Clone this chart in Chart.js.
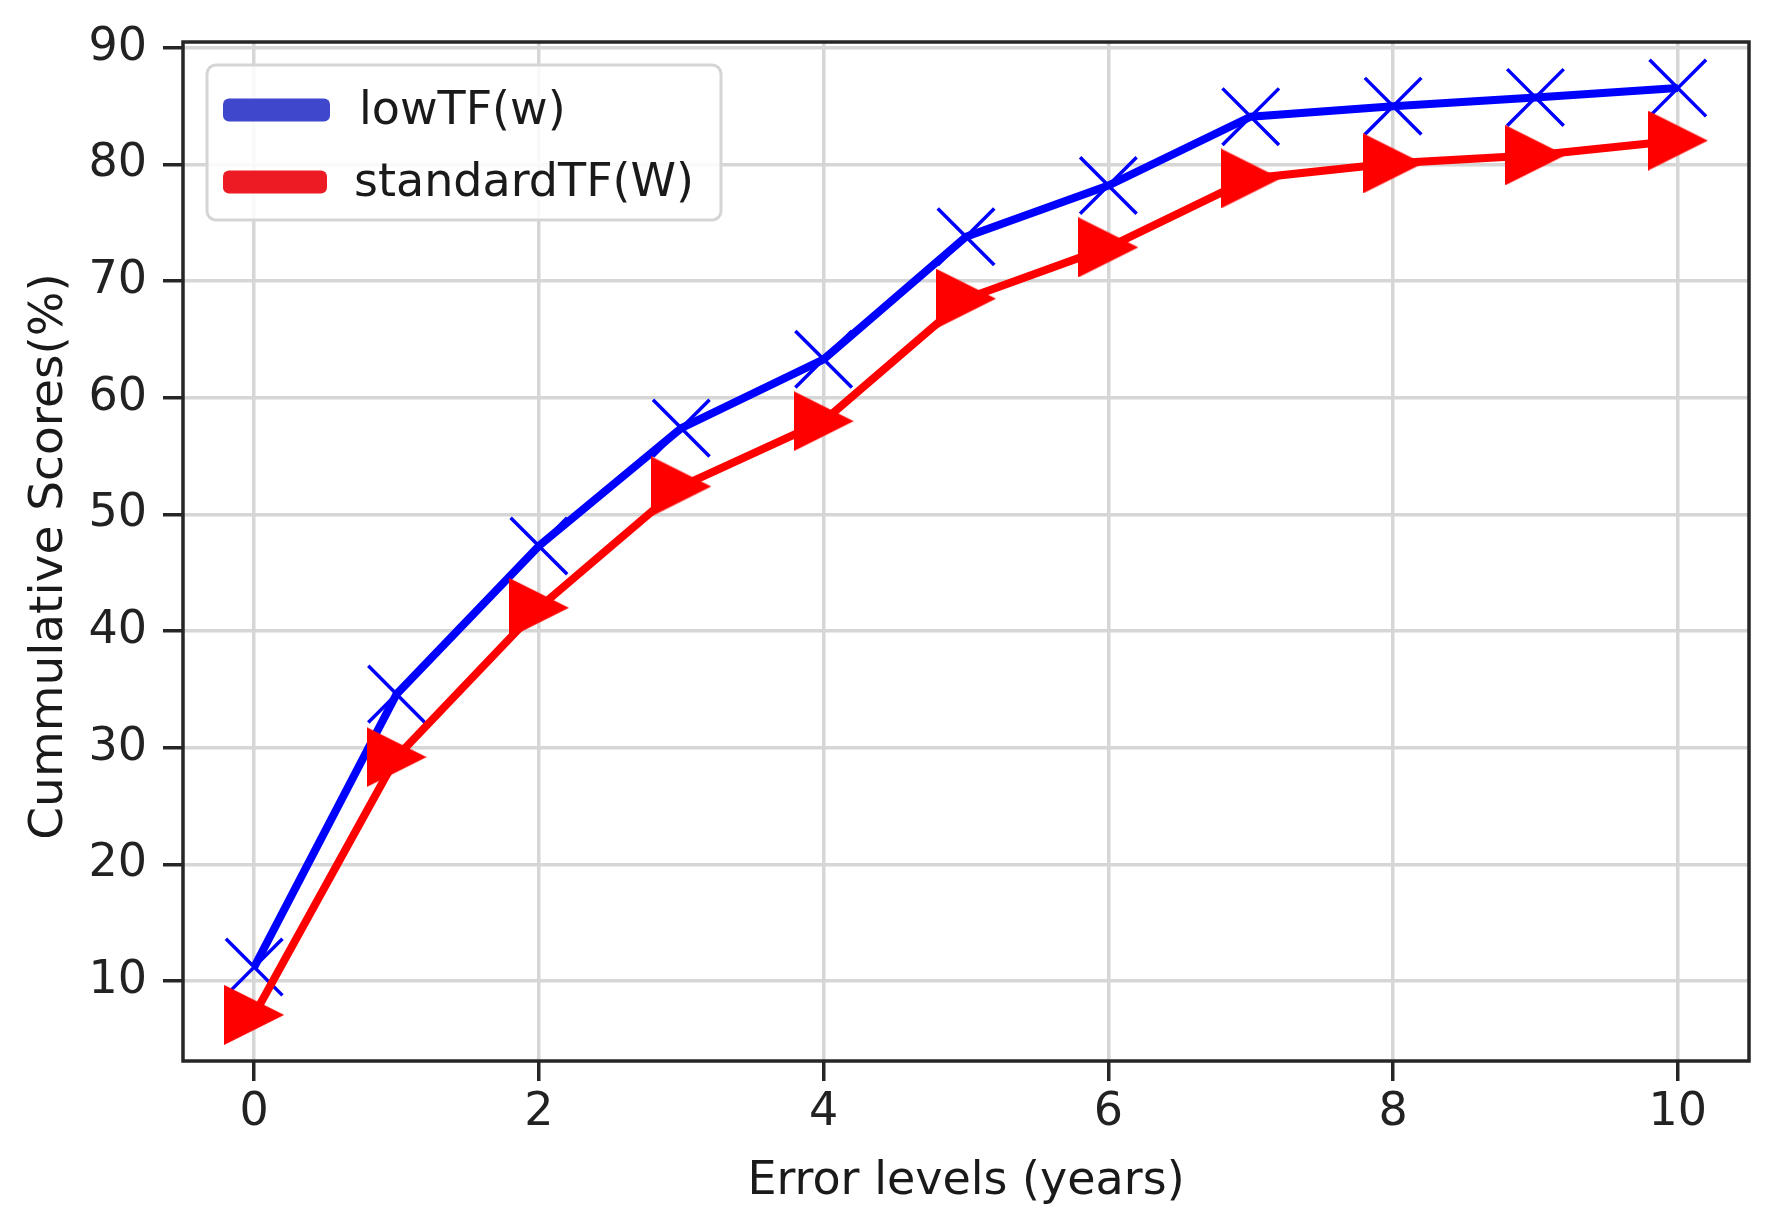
<!DOCTYPE html>
<html>
<head>
<meta charset="utf-8">
<script src="https://cdn.jsdelivr.net/npm/chart.js@4.4.0/dist/chart.umd.min.js"></script>
<style>
html,body{margin:0;padding:0;background:#fff;}
canvas{display:block;}
</style>
</head>
<body>
<canvas id="c" width="1770" height="1213"></canvas>
<script>
const errorLevels = [0, 1, 2, 3, 4, 5, 6, 7, 8, 9, 10];
const lowTF = [11.2, 34.6, 47.3, 57.4, 63.3, 73.8, 78.2, 84.1, 85.0, 85.75, 86.55];
const standardTF = [7.1, 29.2, 42.0, 52.4, 58.0, 68.5, 72.9, 78.8, 80.1, 80.8, 82.05];
const xTicks = [0, 2, 4, 6, 8, 10];
const yTicks = [10, 20, 30, 40, 50, 60, 70, 80, 90];
const seriesNames = ['lowTF(w)', 'standardTF(W)'];
const xTitle = 'Error levels (years)';
const yTitle = 'Cummulative Scores(%)';

const FONT = "'DejaVu Sans', sans-serif";

// right-pointing triangle marker
const tri = document.createElement('canvas');
tri.width = 60; tri.height = 60;
(function(){
  const t = tri.getContext('2d');
  t.fillStyle = '#ff0000';
  t.beginPath();
  t.moveTo(0, 0); t.lineTo(60, 30); t.lineTo(0, 60); t.closePath();
  t.fill();
})();

const frameAndLegend = {
  id: 'frameAndLegend',
  afterDraw(chart) {
    const ctx = chart.ctx;
    const a = chart.chartArea;
    ctx.save();
    // spines
    ctx.strokeStyle = '#262626';
    ctx.lineWidth = 3.5;
    ctx.strokeRect(a.left, a.top, a.right - a.left, a.bottom - a.top);

    // legend box
    const bx = 207, by = 65, bw = 514, bh = 155, r = 9;
    ctx.beginPath();
    ctx.moveTo(bx + r, by);
    ctx.arcTo(bx + bw, by, bx + bw, by + bh, r);
    ctx.arcTo(bx + bw, by + bh, bx, by + bh, r);
    ctx.arcTo(bx, by + bh, bx, by, r);
    ctx.arcTo(bx, by, bx + bw, by, r);
    ctx.closePath();
    ctx.fillStyle = 'rgba(255,255,255,0.85)';
    ctx.fill();
    ctx.strokeStyle = '#d5d5d5';
    ctx.lineWidth = 3;
    ctx.stroke();

    // legend handles
    const handles = [
      {c: '#3f48cc', y: 110, x1: 223, x2: 330, tx: 359},
      {c: '#ed1c24', y: 182, x1: 223, x2: 327, tx: 354}
    ];
    ctx.font = '46px ' + FONT;
    ctx.textBaseline = 'middle';
    ctx.textAlign = 'left';
    handles.forEach((h, i) => {
      ctx.fillStyle = h.c;
      const hh = 23, rr = 6;
      const x = h.x1, y = h.y - hh / 2, w = h.x2 - h.x1;
      ctx.beginPath();
      ctx.moveTo(x + rr, y);
      ctx.arcTo(x + w, y, x + w, y + hh, rr);
      ctx.arcTo(x + w, y + hh, x, y + hh, rr);
      ctx.arcTo(x, y + hh, x, y, rr);
      ctx.arcTo(x, y, x + w, y, rr);
      ctx.closePath();
      ctx.fill();
      ctx.fillStyle = '#1a1a1a';
      ctx.fillText(seriesNames[i], h.tx, h.y + 2);
    });

    // axis titles
    ctx.fillStyle = '#1a1a1a';
    ctx.font = '46px ' + FONT;
    ctx.textAlign = 'center';
    ctx.textBaseline = 'alphabetic';
    ctx.fillText(xTitle, (a.left + a.right) / 2, 1194);

    ctx.save();
    ctx.translate(62, (a.top + a.bottom) / 2 + 5);
    ctx.rotate(-Math.PI / 2);
    ctx.font = '47px ' + FONT;
    ctx.textAlign = 'center';
    ctx.textBaseline = 'alphabetic';
    ctx.fillText(yTitle, 0, 0);
    ctx.restore();

    ctx.restore();
  }
};

new Chart(document.getElementById('c'), {
  type: 'line',
  data: {
    datasets: [
      {
        label: seriesNames[0],
        data: errorLevels.map((x, i) => ({x: x, y: lowTF[i]})),
        borderColor: '#0000ff',
        backgroundColor: '#0000ff',
        borderWidth: 8,
        pointStyle: 'crossRot',
        pointRadius: 40,
        pointBorderWidth: 3.5,
        pointBorderColor: '#0000ff',
        pointHoverRadius: 40,
        tension: 0,
        fill: false,
        order: 1
      },
      {
        label: seriesNames[1],
        data: errorLevels.map((x, i) => ({x: x, y: standardTF[i]})),
        borderColor: '#ff0000',
        backgroundColor: '#ff0000',
        borderWidth: 8,
        pointStyle: tri,
        pointRadius: 30,
        pointHoverRadius: 30,
        tension: 0,
        fill: false,
        order: 0
      }
    ]
  },
  options: {
    responsive: false,
    animation: false,
    devicePixelRatio: 1,
    layout: {autoPadding: false, padding: {left: 0, top: 42, right: 21, bottom: 0}},
    plugins: {legend: {display: false}, tooltip: {enabled: false}},
    scales: {
      x: {
        type: 'linear',
        min: -0.5,
        max: 10.5,
        afterFit(s) { s.height = 152; s.paddingLeft = 0; s.paddingRight = 0; },
        afterBuildTicks(s) { s.ticks = xTicks.map(v => ({value: v})); },
        border: {display: false},
        grid: {color: '#d6d6d6', lineWidth: 3.5, tickColor: '#262626', tickWidth: 3.5, tickLength: 20, drawTicks: true},
        ticks: {font: {family: FONT, size: 46}, color: '#222', padding: 4, maxRotation: 0, autoSkip: false}
      },
      y: {
        type: 'linear',
        min: 3.15,
        max: 90.5,
        afterFit(s) { s.width = 183; s.paddingTop = 0; s.paddingBottom = 0; },
        afterBuildTicks(s) { s.ticks = yTicks.map(v => ({value: v})); },
        border: {display: false},
        grid: {color: '#d6d6d6', lineWidth: 3.5, tickColor: '#262626', tickWidth: 3.5, tickLength: 20, drawTicks: true},
        ticks: {font: {family: FONT, size: 46}, color: '#222', padding: 16, autoSkip: false}
      }
    }
  },
  plugins: [frameAndLegend]
});
</script>
</body>
</html>
